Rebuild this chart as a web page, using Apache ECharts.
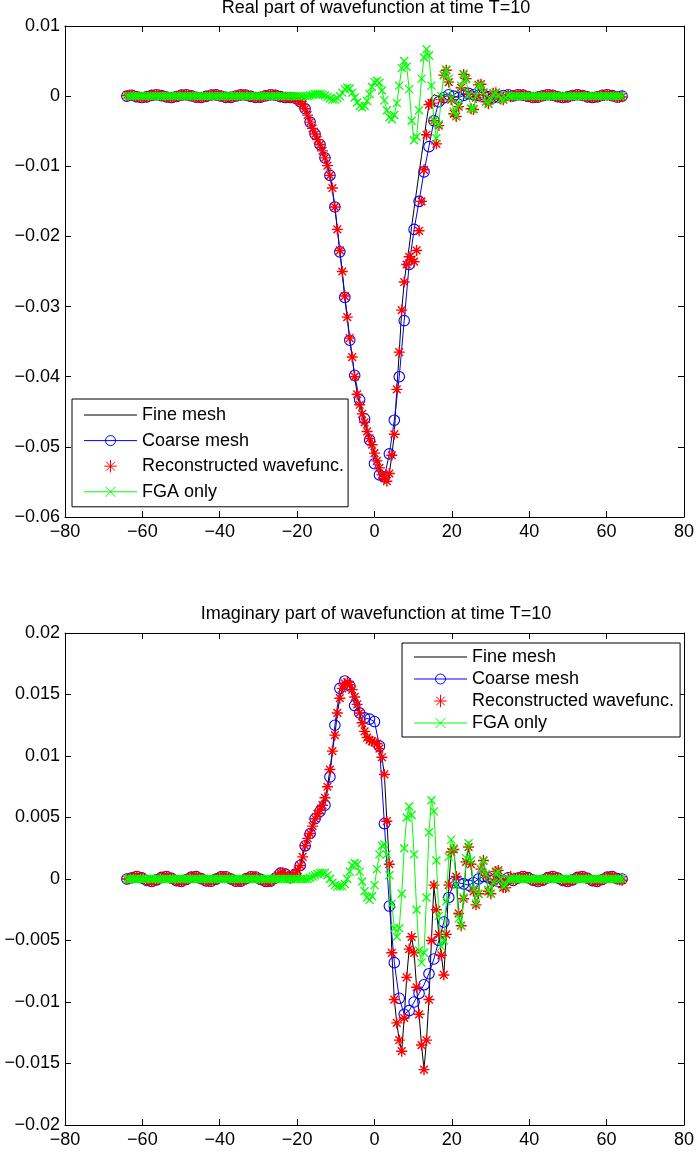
<!DOCTYPE html>
<html><head><meta charset="utf-8">
<script src="https://cdn.jsdelivr.net/npm/echarts@6/dist/echarts.min.js"></script>
<style>html,body{margin:0;padding:0;background:#fff}#c{width:697px;height:1153px}</style>
</head><body><div id="c"></div>
<script>
// ---------- DATA ----------
// grids: fine/reconstructed/FGA sampled every 0.64 from -64; coarse every 1.28 from -64
const X_START = -64, FINE_STEP = 0.64, COARSE_STEP = 1.28;
const seriesNames = ['Fine mesh', 'Coarse mesh', 'Reconstructed wavefunc.', 'FGA only'];
const titles = ['Real part of wavefunction at time T=10', 'Imaginary part of wavefunction at time T=10'];
const xTicks = {min: -80, max: 80, step: 20};
const yTicksReal = {min: -0.06, max: 0.01, step: 0.01};
const yTicksImag = {min: -0.02, max: 0.02, step: 0.005};

const realFine = [
.0001,.00018,.00012,.00002,-.00009,-.00017,-.0002,-.00017,-.0001,0,
.00011,.00018,.0002,.00016,.00008,-.00002,-.00012,-.00019,-.0002,-.00015,
-.00006,.00004,.00014,.00019,.00019,.00014,.00005,-.00006,-.00015,-.0002,
-.00019,-.00012,-.00003,.00008,.00016,.0002,.00018,.00011,.00001,-.0001,
-.00017,-.0002,-.00017,-.00009,.00001,.00011,.00018,.0002,.00016,.00007,
-.00003,-.00013,-.00019,-.0002,-.00015,-.00006,.00005,.00014,.00019,.00019,
.00013,.00004,-.00007,-.00016,-.0002,-.0002,-.0002,-.0002,-.0003,-.0005,
-.0008,-.0012,-.0018,-.0027,-.0037,-.0046,-.0054,-.0062,-.0069,-.0078,
-.0088,-.0099,-.0113,-.0131,-.0158,-.0190,-.0220,-.0250,-.0285,-.0315,
-.0345,-.0372,-.0400,-.0425,-.0440,-.0453,-.0465,-.0478,-.0488,-.0497,
-.0509,-.0520,-.0530,-.0540,-.0545,-.0549,-.0538,-.0512,-.0482,-.0418,
-.0365,-.0305,-.0265,-.0238,-.0215,-.0186,-.0160,-.0135,-.0110,-.0085,
-.0060,-.0035,-.0013,-.0002,.0002,.0001,-.0001,0,.0002,.0002,
.0001,-.0001,-.0002,-.0001,.0001,.0002,.0003,.0002,0,-.0001,
-.0001,.0001,.0002,.0002,.0001,-.0001,-.0002,-.0001,.0001,.0002,
.0002,.0001,-.0001,-.0002,-.0001,-.00007,.00004,.00013,.00019,.0002,
.00015,.00006,-.00005,-.00014,-.00019,-.00019,-.00014,-.00004,.00006,.00015,
.0002,.00019,.00012,.00003,-.00008,-.00016,-.0002,-.00018,-.00011,-.00001,
.00009,.00017,.0002,.00017,.0001,0,-.0001,-.00018,-.0002,-.00017,
-.00009,.00002,.00012,.00018,.0002,.00016,.00007,-.00003,-.00013,-.00019,
-.0001];

const realRecon = [
.0001,.00018,.00012,.00002,-.00009,-.00017,-.0002,-.00017,-.0001,0,
.00011,.00018,.0002,.00016,.00008,-.00002,-.00012,-.00019,-.0002,-.00015,
-.00006,.00004,.00014,.00019,.00019,.00014,.00005,-.00006,-.00015,-.0002,
-.00019,-.00012,-.00003,.00008,.00016,.0002,.00018,.00011,.00001,-.0001,
-.00017,-.0002,-.00017,-.00009,.00001,.00011,.00018,.0002,.00016,.00007,
-.00003,-.00013,-.00019,-.0002,-.00015,-.00006,.00005,.00014,.00019,.00019,
.00013,.00004,-.00007,-.00016,-.0002,-.0002,-.0002,-.0002,-.0003,-.0005,
-.0008,-.0012,-.0018,-.0027,-.0037,-.0046,-.0054,-.0062,-.0069,-.0078,
-.0088,-.0099,-.0113,-.0131,-.0158,-.0190,-.0220,-.0250,-.0285,-.0315,
-.0345,-.0372,-.0400,-.0425,-.0440,-.0453,-.0465,-.0478,-.0488,-.0497,
-.0509,-.0520,-.0530,-.0540,-.0545,-.0549,-.0538,-.0512,-.0482,-.0418,
-.0365,-.0305,-.0265,-.0240,-.0229,-.0233,-.0236,-.0220,-.0192,-.0150,
-.0105,-.0055,-.0012,-.0010,-.0035,-.0068,-.0042,-.0005,.0030,.0037,
.0020,-.0005,-.0025,-.0029,-.0015,.0012,.0031,.0025,.0003,-.0018,
-.0019,-.0002,.0016,.0017,.0005,-.0008,-.0011,-.0004,.0004,.0005,
.0001,-.0004,-.0005,-.0001,.0002,-.00007,.00004,.00013,.00019,.0002,
.00015,.00006,-.00005,-.00014,-.00019,-.00019,-.00014,-.00004,.00006,.00015,
.0002,.00019,.00012,.00003,-.00008,-.00016,-.0002,-.00018,-.00011,-.00001,
.00009,.00017,.0002,.00017,.0001,0,-.0001,-.00018,-.0002,-.00017,
-.00009,.00002,.00012,.00018,.0002,.00016,.00007,-.00003,-.00013,-.00019,
-.0001];

const realFGA = [
0,0,0,0,0,0,0,0,0,0, 0,0,0,0,0,0,0,0,0,0, 0,0,0,0,0,0,0,0,0,0,
0,0,0,0,0,0,0,0,0,0, 0,0,0,0,0,0,0,0,0,0, 0,0,0,0,0,0,0,0,0,0,
0,0,0,0,0,0,0,0,0,0,
0,0,0,0,.0001,.0002,.0003,.0003,.0003,.0002,
.0001,-.0001,-.0003,-.0005,-.0005,-.0003,0,.0005,.0010,.0012,
.0011,.0005,-.0002,-.0009,-.0014,-.0016,-.0014,-.0007,.0003,.0013,
.0020,.0022,.0019,.0008,-.0006,-.0020,-.0030,-.0033,-.0027,-.0010,
.0015,.0040,.0050,.0042,.0010,-.0035,-.0063,-.0058,-.0020,.0025,
.0055,.0067,.0058,.0015,-.0035,-.0060,-.0040,0,.0030,.0038,
.0025,-.0003,-.0022,-.0028,-.0012,.0015,.0032,.0024,.0002,-.0018,
-.0018,0,.0015,.0016,.0005,-.0008,-.0011,-.0005,.0003,.0005,
.0001,-.0004,-.0005,-.0002,.0001,0,0,0,0,0,
0,0,0,0,0,0,0,0,0,0, 0,0,0,0,0,0,0,0,0,0, 0,0,0,0,0,0,0,0,0,0,
0,0,0,0,0,0,0,0,0,0, 0];

const realCoarse = [
0,.00012,-.00009,-.0002,-.0001,.00011,.0002,.00008,-.00012,-.0002,
-.00006,.00014,.00019,.00005,-.00015,-.00019,-.00003,.00016,.00018,.00001,
-.00017,-.00017,.00001,.00018,.00016,-.00003,-.00019,-.00015,.00005,.00019,
.00013,-.00007,-.0002,-.0002,-.0003,-.0008,-.0018,-.0037,-.0054,-.0069,
-.0088,-.0113,-.0158,-.0222,-.0287,-.0348,-.0398,-.0433,-.0460,-.0490,
-.0524,-.0540,-.0543,-.0510,-.0462,-.0400,-.0320,-.0240,-.0190,-.0150,
-.0108,-.0072,-.0035,-.0008,-.0002,.0002,0,-.0002,.0001,.0004,
.0002,.0001,.0002,-.0001,-.0002,-.0001,.0001,.0002,.00004,.00019,
.00015,-.00005,-.00019,-.00014,.00006,.0002,.00012,-.00008,-.0002,-.00011,
.00009,.0002,.0001,-.0001,-.0002,-.00009,.00012,.0002,.00007,-.00013,
0];

// Imaginary part: the reconstructed wavefunction lies on the fine-mesh curve
const imagFine = [
0,0,.0001,.00018,.0002,.00017,.00009,-.00002,-.00012,-.00018,
-.0002,-.00016,-.00007,.00003,.00013,.00019,.0002,.00015,.00006,-.00005,
-.00014,-.00019,-.00019,-.00014,-.00004,.00006,.00015,.0002,.00019,.00013,
.00003,-.00008,-.00016,-.0002,-.00018,-.00011,-.00001,.00009,.00017,.0002,
.00018,.0001,0,-.0001,-.00018,-.0002,-.00017,-.00009,.00002,.00012,
.00018,.0002,.00016,.00007,-.00003,-.00013,-.0002,-.00022,-.00018,-.00008,
.00008,.0003,.00048,.0005,.0004,.0002,.0001,.0002,.0004,.0007,
.0011,.0018,.0027,.0033,.0037,.0043,.0049,.0053,.0056,.0060,
.0066,.0075,.0089,.0104,.0117,.0135,.0147,.0155,.0159,.0160,
.0158,.0154,.0148,.0142,.0135,.0127,.0120,.0115,.0113,.0112,
.0111,.0110,.0106,.0099,.0085,.0047,.0012,-.0060,-.0098,-.0117,
-.0131,-.0140,-.0113,-.0080,-.0057,-.0047,-.0060,-.0088,-.0110,-.0135,
-.0155,-.0131,-.0098,-.0050,-.0005,-.0025,-.0045,-.0062,-.0078,-.0045,
-.0005,.0022,.0024,.0002,-.0028,-.0038,-.0016,.0014,.0026,.0012,
-.0010,-.0021,-.0012,.0008,.0015,.0003,-.0010,-.0012,-.0002,.0006,
.0007,0,-.0007,-.0007,-.0001,.0002,-.00012,-.00002,.00008,.00016,
.0002,.00018,.00011,.00001,-.00009,-.00017,-.0002,-.00017,-.0001,.00001,
.00011,.00018,.0002,.00016,.00008,-.00002,-.00012,-.00018,-.0002,-.00016,
-.00007,.00004,.00013,.00019,.0002,.00015,.00006,-.00005,-.00014,-.00019,
-.00019,-.00013,-.00004,.00007,.00015,.0002,.00019,.00012,.00003,-.00008,
-.0001];
const imagRecon = imagFine;

const imagFGA = [
0,0,0,0,0,0,0,0,0,0, 0,0,0,0,0,0,0,0,0,0, 0,0,0,0,0,0,0,0,0,0,
0,0,0,0,0,0,0,0,0,0, 0,0,0,0,0,0,0,0,0,0, 0,0,0,0,0,0,0,0,0,0,
0,0,0,0,0,0,0,0,0,0,
0,0,0,0,.0001,.0002,.0003,.0004,.0005,.0005,
.0005,.0003,0,-.0003,-.0005,-.0006,-.0006,-.0006,-.0004,0,
.0006,.0011,.0013,.0012,.0006,-.0002,-.0010,-.0015,-.0017,-.0014,
-.0005,.0008,.0020,.0027,.0028,.0020,.0003,-.0020,-.0040,-.0047,
-.0040,-.0012,.0025,.0050,.0059,.0052,.0020,-.0025,-.0058,-.0068,
-.0060,-.0015,.0038,.0064,.0055,.0015,-.0030,-.0055,-.0050,-.0018,
.0018,.0032,.0025,-.0005,-.0032,-.0038,-.0015,.0017,.0029,.0015,
-.0008,-.0020,-.0012,.0008,.0015,.0004,-.0009,-.0012,-.0003,.0005,
.0006,0,-.0006,-.0005,0,0,0,0,0,0,
0,0,0,0,0,0,0,0,0,0, 0,0,0,0,0,0,0,0,0,0, 0,0,0,0,0,0,0,0,0,0,
0,0,0,0,0,0,0,0,0,0, 0];

const imagCoarse = [
0,.0001,.0002,.00009,-.00012,-.0002,-.00007,.00013,.0002,.00006,
-.00014,-.00019,-.00004,.00015,.00019,.00003,-.00016,-.00018,-.00001,.00017,
.00018,0,-.00018,-.00017,.00002,.00018,.00016,-.00003,-.0002,-.00018,
.00008,.00048,.0004,.0001,.0004,.0011,.0027,.0037,.0049,.0055,
.0060,.0083,.0125,.0155,.0161,.0157,.0141,.0135,.0131,.0130,
.0128,.0108,.0045,-.0022,-.0068,-.0097,-.0110,-.0107,-.0100,-.0093,
-.0086,-.0077,-.0065,-.0050,-.0035,-.0015,-.0003,-.0003,-.0004,-.0005,
-.0003,0,.0002,.0001,-.0001,-.0002,-.0001,.0001,-.00012,.00008,
.0002,.00011,-.00009,-.0002,-.0001,.00011,.0002,.00008,-.00012,-.0002,
-.00007,.00013,.0002,.00006,-.00014,-.00019,-.00004,.00015,.00019,.00003,
0];

// ---------- CHART ----------
const FONT = "'Liberation Sans', Arial, Helvetica, sans-serif";
const FS = 18;
const STAR = 'path://M5 0 L5 10 M0 5 L10 5 M1.5 1.5 L8.5 8.5 M1.5 8.5 L8.5 1.5';
const XMARK = 'path://M0 0 L10 10 M0 10 L10 0';

function pairs(ys, step) { return ys.map((y, i) => [X_START + i * step, y]); }
function fmt(v) { return String(parseFloat(Number(v).toFixed(4))).replace('-', '\u2212'); }

const gridBoxes = [
  {left: 65, top: 26, width: 622, height: 491},
  {left: 65, top: 633, width: 622, height: 492}
];
const yTicks = [yTicksReal, yTicksImag];

const xAxis = [], yAxis = [];
gridBoxes.forEach((g, i) => {
  const common = {
    type: 'value', gridIndex: i, splitLine: {show: false},
    axisLine: {show: true, onZero: false, lineStyle: {color: '#000', width: 1}},
    axisTick: {show: true, inside: true, length: 6, lineStyle: {color: '#000', width: 1}}
  };
  const lab = {show: true, color: '#000', fontSize: FS, fontFamily: FONT, formatter: fmt, showMinLabel: true, showMaxLabel: true};
  const xr = {min: xTicks.min, max: xTicks.max, interval: xTicks.step};
  const yr = {min: yTicks[i].min, max: yTicks[i].max, interval: yTicks[i].step};
  xAxis.push(Object.assign({}, common, xr, {position: 'bottom', axisLabel: Object.assign({}, lab, {margin: 6})}));
  xAxis.push(Object.assign({}, common, xr, {position: 'top', axisLabel: {show: false}}));
  yAxis.push(Object.assign({}, common, yr, {position: 'left', axisLabel: Object.assign({}, lab, {margin: 5})}));
  yAxis.push(Object.assign({}, common, yr, {position: 'right', axisLabel: {show: false}}));
});

function seriesFor(g, fine, coarse, recon, fga) {
  const ax = {xAxisIndex: 2 * g, yAxisIndex: 2 * g, silent: true, emphasis: {disabled: true}, animation: false};
  return [
    Object.assign({name: seriesNames[0], type: 'line', data: pairs(fine, FINE_STEP), symbol: 'none',
      lineStyle: {color: '#000', width: 1},
      itemStyle: {color: 'rgba(0,0,0,0)', borderColor: 'rgba(0,0,0,0)', borderWidth: 0}, z: 2}, ax),
    Object.assign({name: seriesNames[1], type: 'line', data: pairs(coarse, COARSE_STEP), symbol: 'circle', symbolSize: 10.5,
      showSymbol: true, showAllSymbol: true,
      lineStyle: {color: '#0000ff', width: 1},
      itemStyle: {color: 'rgba(0,0,0,0)', borderColor: '#0000ff', borderWidth: 1.1}, z: 3}, ax),
    Object.assign({name: seriesNames[2], type: 'scatter', data: pairs(recon, FINE_STEP), symbol: STAR, symbolSize: 11,
      itemStyle: {color: '#ff0000', borderColor: '#ff0000', borderWidth: 1.4, opacity: 1}, z: 4}, ax),
    Object.assign({name: seriesNames[3], type: 'line', data: pairs(fga, FINE_STEP), symbol: XMARK, symbolSize: 8,
      showSymbol: true, showAllSymbol: true,
      lineStyle: {color: '#00ff00', width: 1},
      itemStyle: {color: '#00ff00', borderColor: '#00ff00', borderWidth: 1.3}, z: 5}, ax)
  ];
}

const legendCommon = {
  data: seriesNames, orient: 'vertical', itemWidth: 53, itemHeight: 12.5,
  borderColor: '#000', borderWidth: 1, borderRadius: 0, backgroundColor: '#fff',
  selectedMode: false, textStyle: {fontSize: FS, fontFamily: FONT, color: '#000'},
  itemStyle: {borderWidth: 1}, lineStyle: {width: 1}, z: 10
};

const chart = echarts.init(document.getElementById('c'), null, {renderer: 'canvas'});
chart.setOption({
  animation: false,
  backgroundColor: '#fff',
  grid: gridBoxes.map(g => Object.assign({containLabel: false}, g)),
  xAxis: xAxis,
  yAxis: yAxis,
  legend: [
    Object.assign({}, legendCommon, {left: 72, top: 399, padding: [7, 4, 6, 11.5], itemGap: 7.6}),
    Object.assign({}, legendCommon, {left: 402, top: 643, padding: [5, 6, 5, 11.5], itemGap: 4})
  ],
  graphic: [
    {type: 'text', x: 376, y: 8, z: 20, style: {text: titles[0], fontSize: FS, fontFamily: FONT, fill: '#000', align: 'center', verticalAlign: 'middle'}},
    {type: 'text', x: 376, y: 614, z: 20, style: {text: titles[1], fontSize: FS, fontFamily: FONT, fill: '#000', align: 'center', verticalAlign: 'middle'}}
  ],
  series: [].concat(
    seriesFor(0, realFine, realCoarse, realRecon, realFGA),
    seriesFor(1, imagFine, imagCoarse, imagRecon, imagFGA)
  )
});
</script></body></html>
